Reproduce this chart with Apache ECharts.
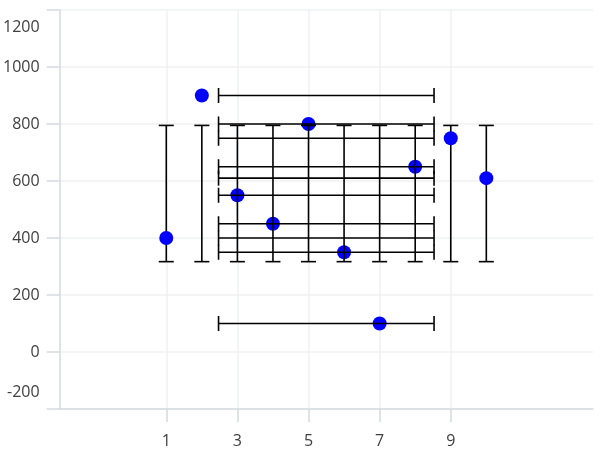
<!DOCTYPE html>
<html><head><meta charset="utf-8">
<script src="https://cdn.jsdelivr.net/npm/echarts@6/dist/echarts.min.js"></script>
<style>html,body{margin:0;padding:0;background:#fff}#c{width:610px;height:457px}</style>
</head><body><div id="c"></div>
<script>
// Data
const xValues = [1, 2, 3, 4, 5, 6, 7, 8, 9, 10];
const yValues = [400, 900, 550, 450, 800, 350, 100, 650, 750, 610];
const yErrLow  = [317, 317, 317, 317, 317, 317, 317, 317, 317, 317];
const yErrHigh = [795, 795, 795, 795, 795, 795, 795, 795, 795, 795];
const xErrLow  = [2.47, 2.47, 2.47, 2.47, 2.47, 2.47, 2.47, 2.47, 2.47, 2.47];
const xErrHigh = [8.53, 8.53, 8.53, 8.53, 8.53, 8.53, 8.53, 8.53, 8.53, 8.53];
const xTickLabels = [1, 3, 5, 7, 9];
const yTickLabels = [-200, 0, 200, 400, 600, 800, 1000, 1200];

const FONT = 'Open Sans';
const TXT = '#404040';
const AXIS = '#d5dae0';
const GRID = '#eef0f2';
const CAP = 15;

const errData = xValues.map((x, i) => [x, yValues[i], xErrLow[i], xErrHigh[i], yErrLow[i], yErrHigh[i]]);

function line(x1, y1, x2, y2) {
  return { type: 'line', shape: { x1, y1, x2, y2 }, style: { stroke: '#000', lineWidth: 1.6 } };
}
function makeRender(layer) {
  return function (params, api) {
    const x = api.value(0), y = api.value(1);
    const xl = api.value(2), xh = api.value(3), yl = api.value(4), yh = api.value(5);
    const inside = x >= xl && x <= xh;
    const children = [];
    const drawV = layer === 'under' ? !inside : inside;
    if (drawV) {
      const pLo = api.coord([x, yl]), pHi = api.coord([x, yh]);
      children.push(line(pLo[0], pLo[1], pHi[0], pHi[1]));
      children.push(line(pLo[0] - CAP / 2, pLo[1], pLo[0] + CAP / 2, pLo[1]));
      children.push(line(pHi[0] - CAP / 2, pHi[1], pHi[0] + CAP / 2, pHi[1]));
    }
    if (layer === 'over') {
      const qLo = api.coord([xl, y]), qHi = api.coord([xh, y]);
      children.push(line(qLo[0], qLo[1], qHi[0], qHi[1]));
      children.push(line(qLo[0], qLo[1] - CAP / 2, qLo[0], qLo[1] + CAP / 2));
      children.push(line(qHi[0], qHi[1] - CAP / 2, qHi[0], qHi[1] + CAP / 2));
    }
    return { type: 'group', children };
  };
}

const chart = echarts.init(document.getElementById('c'), null, { renderer: 'canvas' });
chart.setOption({
  animation: false,
  backgroundColor: '#fff',
  grid: { left: 57, right: 17, top: 10, bottom: 48, containLabel: false },
  xAxis: {
    type: 'value', min: -2, max: 13, interval: 1,
    axisLine: { show: true, onZero: false, lineStyle: { color: AXIS, width: 1.5 } },
    axisTick: { show: true, length: 13, customValues: xTickLabels, lineStyle: { color: AXIS, width: 1.5 } },
    axisLabel: { customValues: xTickLabels, margin: 24, fontFamily: FONT, fontSize: 16, color: TXT },
    splitLine: { show: true, lineStyle: { color: GRID, width: 1.5 } }
  },
  yAxis: {
    type: 'value', min: -200, max: 1200, interval: 200,
    axisLine: { show: true, onZero: false, lineStyle: { color: AXIS, width: 1.5 } },
    axisTick: { show: true, length: 13, lineStyle: { color: AXIS, width: 1.5 } },
    axisLabel: {
      margin: 20, fontFamily: FONT, fontSize: 16, color: TXT,
      formatter: function (v) {
        if (v === yTickLabels[yTickLabels.length - 1]) return '{top|' + v + '}';
        if (v === yTickLabels[0]) return '{bot|' + v + '}';
        return String(v);
      },
      rich: {
        top: { padding: [34, 0, 0, 0], fontFamily: FONT, fontSize: 16, color: TXT },
        bot: { padding: [0, 0, 34, 0], fontFamily: FONT, fontSize: 16, color: TXT }
      }
    },
    splitLine: { show: true, lineStyle: { color: GRID, width: 1.5 } }
  },
  series: [
    { type: 'custom', z: 2, renderItem: makeRender('under'), data: errData, encode: { x: 0, y: 1 } },
    { type: 'scatter', z: 3, data: xValues.map((x, i) => [x, yValues[i]]), symbolSize: 14,
      itemStyle: { color: '#0000ff', opacity: 1 } },
    { type: 'custom', z: 4, renderItem: makeRender('over'), data: errData, encode: { x: 0, y: 1 } }
  ]
});
</script>
</body></html>
